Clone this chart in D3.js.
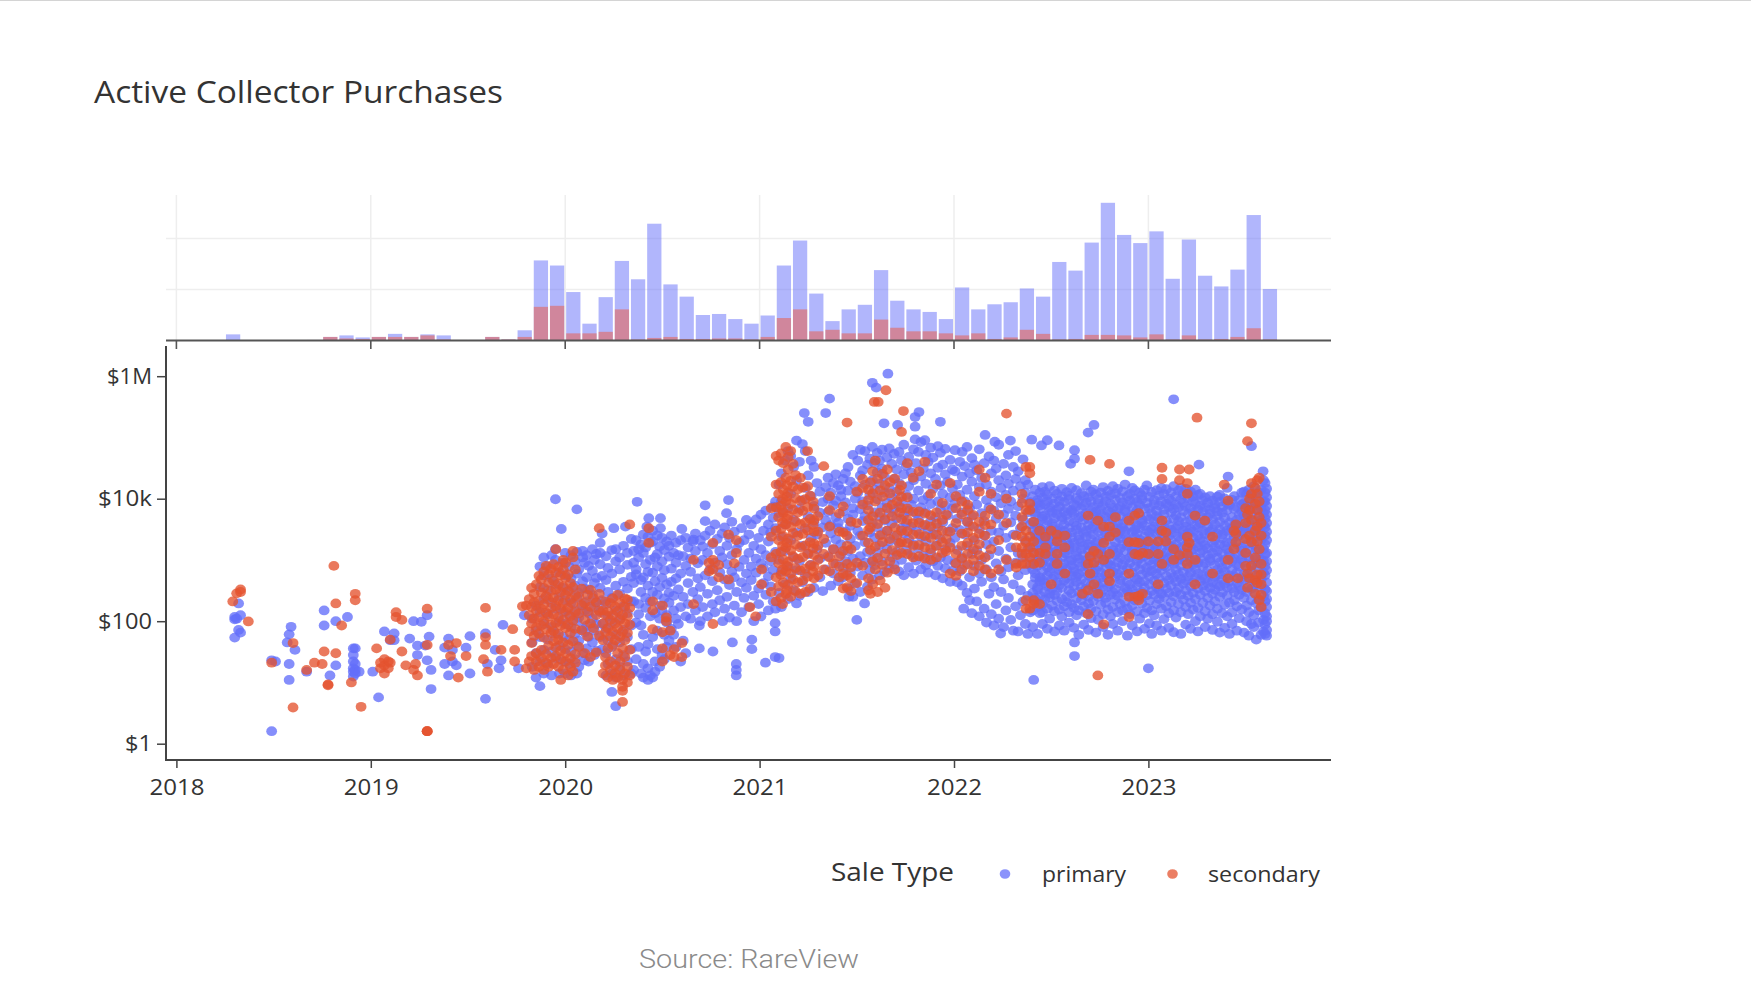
<!DOCTYPE html>
<html><head><meta charset="utf-8">
<script src="https://cdn.jsdelivr.net/npm/d3@7/dist/d3.min.js"></script>
<style>html,body{margin:0;padding:0;background:#fff}svg{display:block}text{font-family:"Open Sans",sans-serif}</style>
</head><body><svg id="c" width="1751" height="1004"></svg>
<script>
const years=[2018,2019,2020,2021,2022,2023];
const valueTicks=[1,100,10000,1000000];
const valueLabels=["$1","$100","$10k","$1M"];
const saleTypes=["primary","secondary"];
// monthly purchase counts from Jan 2018
const primaryCounts=[0,0,0,12,0,0,0,0,1,7,10,6,7,13,7,12,10,1,1,7,2,20,157,147,95,33,85,156,120,229,110,86,50,52,42,33,49,147,196,92,38,61,70,138,78,61,56,42,104,61,71,75,102,86,154,137,192,270,207,191,214,121,198,127,106,139,246,101];
const secondaryCounts=[0,0,0,0,0,0,0,0,1,7,4,3,7,7,7,10,2,1,1,7,2,7,66,68,14,14,17,61,2,5,7,3,3,4,4,2,7,44,61,18,21,14,14,41,25,18,18,14,10,14,3,6,21,13,2,3,11,11,10,6,12,2,10,2,3,7,24,2];
// [year, dollar values]
const primaryEarly=[
[2018.30,[54,107,117]],[2018.31,[110]],[2018.32,[72,195]],[2018.33,[65,125]],[2018.49,[1.6,23]],[2018.51,[22]],[2018.57,[45]],[2018.58,[11,20,61]],[2018.59,[81]],[2018.61,[34]],[2018.67,[15]],[2018.76,[85,150]],[2018.79,[13]],[2018.82,[19,100]],[2018.88,[117]],[2018.91,[12.5,15,17,22,28,36]],[2018.92,[14,16,20,36]],[2018.94,[15]],
[2019.01,[15]],[2019.04,[5.7]],[2019.07,[68]],[2019.10,[49]],[2019.12,[49,63]],[2019.20,[52]],[2019.22,[100]],[2019.24,[28,40]],[2019.26,[98]],[2019.28,[40]],[2019.29,[23,125]],[2019.30,[56]],[2019.31,[7.8,16]],[2019.38,[20,37]],[2019.40,[13,52]],[2019.42,[22,34]],[2019.44,[19]],[2019.49,[37]],[2019.51,[14,57]],[2019.59,[5.4,63]],[2019.60,[20]],[2019.64,[34]],[2019.66,[17]],[2019.67,[23]],[2019.68,[87]],[2019.76,[17]],[2019.79,[125]]];
const primaryOutliers=[
[2019.95,[9800,1500]],[2019.98,[3200]],[2020.06,[6700]],[2020.18,[1900]],[2020.19,[2700]],[2020.24,[1450]],[2020.25,[3300]],[2020.31,[3500]],[2020.34,[2200]],[2020.37,[8900]],[2020.42,[3500]],[2020.43,[4800]],[2020.49,[4800,3300]],[2020.60,[3200]],[2020.66,[2150]],[2020.69,[36,85]],[2020.72,[7800,4300]],[2020.76,[32]],[2020.81,[100]],[2020.83,[5800]],[2020.84,[9500]],[2020.86,[45]],[2020.88,[13,16,20]],[2020.96,[35,50]],
[2021.03,[21]],[2021.08,[26,68,93]],[2021.10,[25]],[2021.19,[195,89000]],[2021.23,[250000]],[2021.25,[180000]],[2021.34,[250000]],[2021.36,[430000]],[2021.46,[250]],[2021.48,[250]],[2021.50,[105]],[2021.54,[195]],[2021.58,[780000]],[2021.60,[650000]],[2021.64,[170000]],[2021.66,[1100000]],[2021.71,[160000]],[2021.80,[150000,215000,93000]],[2021.82,[260000]],[2021.85,[90000]],[2021.93,[180000]],
[2022.05,[160]],[2022.08,[220]],[2022.16,[110000]],[2022.21,[85000]],[2022.24,[63]],[2022.29,[89000]],[2022.40,[92000]],[2022.41,[11]],[2022.45,[74000]],[2022.48,[90000]],[2022.54,[74000]],[2022.60,[37000]],[2022.62,[27,45,45000,62000]],[2022.69,[120000]],[2022.72,[160000]],[2022.90,[28000]],[2023.00,[17]],[2023.13,[420000]],[2023.26,[36000]],[2023.41,[23000]],[2023.53,[72000]],[2023.59,[28000]]];
const primaryDense2020=[
[2019.83,[18,45,110]],[2019.85,[12,30,70,180]],[2019.87,[8.7,22,55,140,360,780]],[2019.89,[14,34,90,230,560,1100]],[2019.91,[20,50,130,320,790]],[2019.93,[13,32,80,200,500,1200]],[2019.95,[25,63,160,400,1000]],[2019.97,[14,40,100,250,630]],[2019.99,[22,56,140,350,900]],[2020.00,[14,35,90,220,560,1300]],[2020.02,[20,50,125,310,780]],[2020.03,[13,32,80,200,500,1200]],[2020.05,[24,62,150,380,950]],[2020.06,[14,40,100,240,600,1350]],[2020.07,[18,48,115,290,700]],[2020.09,[30,75,180,450,1100,1400]],[2020.10,[23,66,150,340,900]],[2020.11,[36,85,210,520,1200]],[2020.12,[22,55,135,330,800]],[2020.14,[45,110,270,660,1500]],[2020.15,[28,70,170,420,1000]],[2020.16,[33,90,200,510,1250]],[2020.18,[55,140,350,850,1300]],[2020.19,[35,90,220,550]],[2020.21,[13,30,75,190,470,1150]],[2020.22,[20,48,120,300,740]],[2020.24,[7,14,38,95,240,600]],[2020.26,[4.1,12,24,60,150,380,950,1500]],[2020.28,[18,45,110,280,700,1100]],[2020.30,[13,28,72,175,440,1700]],[2020.32,[22,55,135,340,830,1300]],[2020.34,[14,35,85,210,530]],
[2020.352,[16,210,420,900,1400]],[2020.365,[24,95,580,700,2100]],[2020.378,[38,130,190,1100,1500]],[2020.39,[14,85,300,470,1800]],[2020.402,[12,20,60,520,1300,2600]],[2020.414,[32,165,240,850,1600]],[2020.426,[11,17,42,380,640,2400]],[2020.438,[13,120,210,1000,1900]],[2020.45,[12,55,300,620,2000,3000]],[2020.462,[15,22,135,450,1100]],[2020.474,[35,70,270,780,1250,2500]],[2020.486,[18,110,180,360,1650]],[2020.498,[28,150,510,950,2300]],[2020.51,[24,60,235,680,1450]],[2020.522,[38,95,125,400,2000]],[2020.534,[48,200,290,1130,1700]],[2020.546,[75,440,720,2500]],[2020.558,[60,150,260,1300]],[2020.57,[38,110,500,900,1900]],[2020.582,[90,330,1200]],[2020.594,[22,170,600,2100]],
[2020.607,[48,250,1150]],[2020.62,[30,120,800,2300]],[2020.632,[190,420,1600]],[2020.645,[110,640,1050]],[2020.657,[300,2000]],[2020.67,[150,1400,2700]],[2020.682,[230,500,880]],[2020.695,[100,360,2100]],[2020.707,[170,1000,1650]],[2020.72,[560,2500]],[2020.732,[120,280,1300]],[2020.745,[700,3000]],[2020.757,[190,450,1800]],[2020.77,[140,900,3800]],[2020.782,[320,2200]],[2020.795,[220,630,1400]],[2020.807,[1100,2700]],[2020.82,[160,480,3400]],[2020.832,[250,850,1700]],[2020.845,[115,390,2300]],[2020.857,[650,1200,4200]],[2020.87,[180,520,2900]],[2020.882,[100,300,1500]],[2020.895,[770,1900]],[2020.907,[140,430,3300]],[2020.92,[240,1000,2100]],[2020.932,[350,600,4500]],[2020.945,[170,1300,2600]],[2020.957,[470,780,3800]],[2020.97,[100,260,1700]],[2020.982,[620,1050,4600]],[2020.995,[190,340,2300]],[2021.007,[120,880,1500,5500]],[2021.02,[420,730,3000]],[2021.032,[270,1200,6400]],[2021.045,[150,540,2000,3800]],[2021.057,[370,950,2800]],[2021.07,[210,680,4900,7400]],[2021.082,[160,1350,3300,9000]]];
const primaryDense2021=[
[2021.10,[290,1000,5800,17000]],[2021.112,[170,640,2400,9000,26000]],[2021.13,[400,1400,3800,42000]],[2021.146,[230,780,7000,60000]],[2021.16,[500,2100,12000,50000]],[2021.175,[320,1100,4500,33000]],[2021.19,[680,2800,20000]],[2021.205,[260,960,6800,40000]],[2021.22,[430,1700,9500,78000]],[2021.235,[590,3300,15000,60000]],[2021.25,[300,1250,5100,24000]],[2021.265,[830,2300,11000,42000]],[2021.28,[350,4100,7600,33000]],[2021.295,[1500,2600,18000]],[2021.31,[520,1050,5900,13000]],[2021.325,[310,3400,8800]],
[2021.34,[700,1900,4400,15500]],[2021.352,[1150,6100,10000,22000]],[2021.366,[380,2700,3700,12500]],[2021.38,[600,1500,7800,18000]],[2021.392,[860,2150,5000,9200,25000]],[2021.405,[450,3300,4100,16500]],[2021.418,[1250,1800,11000,14000]],[2021.43,[520,740,6200,21000]],[2021.442,[960,2900,8700,26000]],[2021.455,[340,1400,4700,13500,33000]],[2021.467,[620,2200,3600,19000]],[2021.48,[1050,5500,7000,52000]],[2021.492,[410,1700,10000,16000]],[2021.505,[780,3000,12500,42000]],[2021.518,[300,1150,2500,6700,24000,63000]],[2021.53,[560,4300,9000,29000]],[2021.542,[900,1950,5200,17000,60000]],[2021.555,[370,1350,7800,36000]],[2021.567,[680,2800,11500,45000]],[2021.58,[480,1000,4000,20000,70000]],[2021.592,[820,2300,6000,14000,38000]],[2021.605,[1300,3400,9800,27000,56000]],[2021.617,[560,1750,5100,17500,42000]],[2021.63,[950,2600,7200,31000,63000]],[2021.642,[640,4400,12500,23000]],[2021.655,[1500,3000,8500,47000]],[2021.667,[720,2000,5900,15000,66000]],[2021.68,[1100,3900,10500,37000]],[2021.692,[840,2450,6800,21000,54000]],[2021.705,[1350,4800,13000,30000]],[2021.717,[650,1900,7500,18000,58000]],[2021.73,[1000,3300,9000,42000]],[2021.742,[560,2700,5400,25000,76000]],[2021.755,[1450,4000,11500,34000]],[2021.767,[760,2200,6300,16000,48000]],[2021.78,[1200,3500,8000,27000]],[2021.792,[600,1800,10000,20000,64000]],[2021.805,[980,2950,5700,38000]],[2021.817,[1550,4600,13500,58000]],[2021.83,[700,2400,7200,23000,84000]],[2021.842,[1150,3600,9500,31000]],[2021.855,[820,2000,6000,17500,52000]],[2021.867,[620,3100,11000,40000]],[2021.88,[1300,4300,8200,26000,68000]],[2021.892,[950,2600,14500,47000]],[2021.905,[560,1700,5000,21000]],[2021.917,[800,3400,9000,32000,72000]],[2021.93,[1100,2200,6600,16500,56000]],[2021.942,[500,4100,12000,36000]],[2021.955,[730,1500,7700,25000,65000]],[2021.967,[1000,2900,5300,19000]],[2021.98,[440,1900,10500,43000]],[2021.992,[660,3300,6900,14700,30000]],
[2022.005,[900,2300,8500,28000,62000]],[2022.017,[430,1450,4700,17000]],[2022.03,[650,3100,11500,40000]],[2022.042,[380,1100,6000,23000,58000]],[2022.055,[820,2600,9000,34000]],[2022.067,[290,1700,4200,14000,70000]],[2022.08,[520,3600,7000,26000]],[2022.092,[135,1250,5200,19000,46000]],[2022.105,[340,800,2100,11000,36000]],[2022.117,[210,1450,8000,29000]],[2022.13,[120,600,3200,15500,64000]],[2022.142,[440,1000,5800,22000]],[2022.155,[160,2500,4300,38000]],[2022.167,[95,700,1800,9500,17000]],[2022.18,[280,1200,7200,49000]],[2022.192,[130,520,3000,13000,26000]],[2022.205,[85,360,2000,6400,42000]],[2022.217,[190,880,4700,10500,31000]],[2022.23,[110,1400,2800,20000,76000]],[2022.242,[300,650,8400,15000]],[2022.255,[80,480,3600,5500,37000]],[2022.267,[150,1050,2300,11500,24000]],[2022.28,[240,760,6800,17500,52000]],[2022.292,[105,1600,4100,9000]],[2022.305,[70,400,2600,13500,33000]],[2022.317,[175,900,5300,21000,60000]],[2022.33,[68,560,1300,7500,28000]],[2022.342,[125,320,3300,16000]],[2022.355,[210,1100,4500,10000,44000]],[2022.367,[90,680,2100,12500,20000]],[2022.38,[62,260,1500,6000,17000]],[2022.392,[140,830,3800,8800]]];
const primaryDense2022=[
[2022.405,[80,150,290,400,700,1000,1600,3000,4200,7000,11000]],[2022.418,[210,240,510,600,1300,2200,2600,5500,6000,14000]],[2022.43,[62,170,330,360,800,950,1900,3400,3900,8500,9500]],[2022.442,[135,260,450,520,1150,1450,2500,3300,6800,7800,12500]],[2022.455,[90,140,190,470,650,880,1700,2900,4700,5100,10500,15500]],[2022.467,[225,300,420,1050,1250,2100,2350,5300,8000,13000]],[2022.48,[75,160,370,560,760,1500,1800,3700,4400,9000,11500]],[2022.492,[110,245,280,640,920,1350,2800,3100,6300,7200,16000]],[2022.505,[180,340,490,730,1200,2000,2450,4000,5900,10000]],[2022.517,[68,145,270,540,850,1050,1650,3500,4800,8300,13500]],[2022.53,[215,310,430,990,1400,2200,3000,5600,6600,12000]],[2022.542,[85,155,390,580,680,1550,2700,3200,7400,9200]],[2022.555,[120,230,350,760,1100,1850,2350,4500,5000,10800,14500]],[2022.567,[70,175,460,610,870,1300,2950,3800,6100,8800]],[2022.58,[205,255,500,700,1250,2050,2550,5400,7000,12800]],[2022.592,[95,140,320,410,970,1450,1750,3300,4300,9800,11200]],[2022.605,[190,285,550,820,1000,2300,2800,6000,6500,15000]],[2022.617,[78,165,380,640,720,1600,1900,4100,5700,8100]],[2022.63,[125,235,440,530,1150,1350,3100,3600,7600,10200,13800]],[2022.642,[60,150,300,590,900,1050,2150,2500,4900,9400]],[2022.655,[220,360,480,780,1500,1950,3400,5200,6900,12300]],[2022.667,[88,175,270,650,1200,1700,2750,4500,7700,11000]],[2022.68,[135,340,420,860,1000,2400,3000,5800,8600,16500]],[2022.692,[72,195,250,560,740,1400,1800,3700,4700,10500]],[2022.705,[112,160,390,520,1100,1650,2200,3200,6400,9000,13000]],[2022.717,[215,300,610,840,1300,2600,3500,5300,7300,14000]],[2022.73,[65,145,345,460,690,1550,1900,4200,6100,11800]],[2022.742,[105,250,375,790,1050,2050,2900,4800,8400,9700]],[2022.755,[185,280,510,620,1250,1500,3300,5600,6700,12600]],[2022.767,[80,130,325,430,950,1750,2300,3800,7800,15500]],[2022.78,[200,240,570,720,1150,2100,2700,5000,9100,10900]],[2022.792,[60,155,365,490,880,1350,3100,4400,6300,13400]],[2022.805,[120,270,400,800,1000,2450,2800,5900,8200,11500]],[2022.817,[90,170,300,640,1450,1650,3600,4600,7100,16000]],[2022.83,[225,335,530,760,1200,1950,3200,5500,9600,12200]],[2022.842,[70,140,260,590,910,1300,2500,4100,6800,14500]],[2022.855,[190,410,470,1080,1550,2250,3000,5200,7500,10300]],[2022.867,[100,150,290,680,830,1800,3400,3900,8700,13200]],[2022.88,[205,350,560,1000,1400,2600,2950,6200,6600,17000]],[2022.892,[58,160,310,445,730,1700,2100,4700,8000,11000]],[2022.905,[130,255,395,890,1100,2000,3500,5000,9300,12000]],[2022.917,[85,180,330,620,1250,1450,2850,4300,7200,15000]],[2022.93,[220,280,520,780,1600,2350,3100,5700,10000,13600]],[2022.942,[68,145,380,480,960,1350,2700,3700,6500,8900]],[2022.955,[110,240,430,700,1050,2150,3300,5400,7900,12500]],[2022.967,[195,300,580,860,1500,1900,4000,4500,9800,11300]],[2022.98,[75,135,350,450,1150,1700,2400,3600,6900,14000]],[2022.992,[165,265,630,750,1300,2050,3000,5100,8500,16500]],
[2023.005,[92,215,400,540,980,1550,2800,4600,7000,10700]],[2023.017,[62,150,310,660,840,1250,2250,3200,5800,12900]],[2023.03,[125,270,460,1020,1400,1800,3500,4200,8100,9500]],[2023.042,[85,190,360,590,720,1650,2600,5200,6400,13800]],[2023.055,[230,330,500,900,1100,2000,3000,4800,7700,11200]],[2023.067,[70,160,280,680,1200,1500,2700,3900,9000,15000]],[2023.08,[108,245,420,800,1000,2300,3400,5500,6600,12000]],[2023.092,[175,340,550,770,1350,1900,2900,4400,8300,14300]],[2023.105,[78,135,290,470,1080,1700,2450,3700,7400,10000]],[2023.117,[205,385,610,940,1250,2100,3100,6000,9200,12700]],[2023.13,[66,150,255,520,860,1600,2800,4700,6800,16000]],[2023.142,[115,300,440,700,1450,1800,3300,5300,8000,11000]],[2023.155,[190,350,580,1000,1150,2400,3600,4300,7200,13500]],[2023.167,[62,140,270,490,800,1550,2150,5000,9700,15000]],[2023.18,[225,410,640,1100,1300,2600,3000,6300,8600,11800]],[2023.192,[88,170,320,460,930,1750,3500,4100,7500,14500]],[2023.205,[130,260,540,750,1200,2000,2750,5600,10200,12300]],[2023.217,[75,200,365,620,1000,1400,3200,4500,7000,13000]],[2023.23,[155,290,430,840,1500,2300,2900,5900,9100,10800]],[2023.242,[100,230,510,710,1100,1850,3700,4800,8200,14000]],[2023.255,[68,165,340,600,900,1650,2500,3400,6700,11500]],[2023.267,[120,270,450,1050,1300,2200,4000,5200,7700,12000]],[2023.28,[200,380,560,780,1450,2000,3000,6100,9400]],[2023.292,[80,145,310,490,880,1750,2650,4300,7200,10500]],[2023.305,[110,240,420,670,1200,1550,3500,5000,8500]],[2023.317,[180,350,590,960,1050,2450,2900,5700,6600,11000]],[2023.33,[72,130,280,440,1300,1900,3200,4600,9300]],[2023.342,[210,325,530,810,1600,2100,3800,7000,8000]],[2023.355,[98,160,400,690,1100,1400,2700,5300,6200,10800]],[2023.367,[65,250,370,575,910,1800,3100,4200,8900,11500]],[2023.38,[135,295,480,740,1250,2250,2600,5900,7400]],[2023.392,[78,185,410,640,1000,1700,3600,4900,10100]],[2023.405,[120,260,355,850,1500,1950,3000,6500,8300,15000]],[2023.417,[62,200,450,560,1150,1300,2800,4100,7900]],[2023.43,[90,140,345,700,960,2050,3300,5000,9600]],[2023.442,[220,300,540,1050,1600,2400,3700,6800,11000]],[2023.455,[70,175,420,620,840,1800,3000,4500,7300]],[2023.467,[112,270,380,780,1200,2500,3900,5500,9500]],[2023.48,[155,325,500,1030,1400,1600,2900,6100,8000,12500]],[2023.492,[65,240,465,585,915,2230,3470,5420,8450,13000]],[2023.505,[100,180,300,730,1290,1800,3200,4900,7640,11900]],[2023.517,[58,140,380,530,1100,1500,2600,4200,9000,14000]],[2023.53,[90,220,340,650,830,2010,3140,5500,6800,11000]],[2023.542,[80,125,300,470,1000,1780,2780,4340,7900,16000]],[2023.555,[50,195,400,730,1140,1500,2400,3700,6770,10600]],[2023.567,[95,150,230,560,875,1365,3320,5180,8080,12600]],[2023.58,[60,165,360,480,1000,2130,2700,4500,7000,14000]],[2023.592,[68,105,255,620,970,1510,3680,5740,8950,20000]],[2023.60,[62,88,135,210,330,560,800,1250,1800,2500,3400,4750,6500,9000,12500,18000]],[2023.608,[58,72,100,120,170,230,310,430,680,950,1300,2100,2900,4000,5500,7600,10500,14500]]];
const secondaryEarly=[
[2018.29,[210]],[2018.31,[285]],[2018.33,[330,300]],[2018.37,[99]],[2018.49,[21]],[2018.60,[3.9,44]],[2018.67,[16]],[2018.71,[21]],[2018.75,[20]],[2018.76,[32]],[2018.78,[9.3,9]],[2018.81,[800]],[2018.82,[30,195]],[2018.85,[85]],[2018.90,[10]],[2018.92,[220,280]],[2018.95,[4]],
[2019.03,[36]],[2019.05,[21,17]],[2019.07,[14,19,24]],[2019.09,[17,22]],[2019.10,[50,21]],[2019.13,[117,140]],[2019.16,[105,32]],[2019.18,[19]],[2019.23,[20]],[2019.22,[16]],[2019.24,[13]],[2019.29,[1.6,1.6,1.6,41,160]],[2019.40,[41]],[2019.41,[27]],[2019.44,[44]],[2019.45,[12]],[2019.49,[27]],[2019.58,[24]],[2019.59,[41,55,165]],[2019.60,[15]],[2019.67,[34]],[2019.73,[74]],[2019.74,[22,34]],[2019.78,[175]],[2019.80,[17,180]]];
const secondaryClusters=[
[2019.815,[22,68,125,230]],[2019.827,[27,44,92,170,350]],[2019.84,[16,58,110,205,280]],[2019.852,[22,30,80,150,400]],[2019.865,[18,63,116,215,550]],[2019.877,[25,34,85,160,295,480]],[2019.89,[16,54,100,188,350,650]],[2019.902,[21,29,74,137,257,800]],[2019.915,[18,40,120,225,425,580]],[2019.927,[25,64,88,165,310,720]],[2019.94,[20,47,69,129,242,455,850]],[2019.952,[27,37,94,177,330,620,1500]],[2019.965,[18,50,62,116,218,410,770]],[2019.977,[11,24,33,85,160,300,560]],[2019.99,[16,45,105,198,370,700,1000]],[2020.002,[22,30,77,145,270,510,900]],[2020.015,[13,41,88,165,310,580]],[2020.027,[18,25,64,120,225,420]],[2020.04,[15,47,103,193,360,1100,1400]],[2020.052,[21,29,75,141,265,700]],[2020.07,[38,133,250]],[2020.085,[71,182,340]],[2020.10,[30,105,198]],[2020.115,[56,144,270]],[2020.13,[26,92,172,325]],[2020.145,[77,236]],[2020.16,[31,126,203]],[2020.175,[58,148,278,3300]],
[2020.195,[14,49,92,150]],[2020.207,[19,26,67,126,210]],[2020.22,[12,36,77,144]],[2020.232,[16,22,56,105,198]],[2020.245,[11,41,67,126,236]],[2020.257,[14,19,49,92,172]],[2020.27,[12,30,77,144,270]],[2020.282,[16,22,56,105,198]],[2020.295,[4.8,7.3,8.5,11,36,67,126]],[2020.307,[14,26,49,92,172,236]],[2020.32,[10,18,64,120,225]],[2020.332,[13,34,88,165,3800]],
[2021.085,[210,520,1250,3000,7200,17000,50000]],[2021.098,[370,880,2100,5000,12000,42000]],[2021.11,[240,570,1350,3200,7700,18500,55000]],[2021.122,[430,1020,2450,5900,14000,38000]],[2021.135,[280,660,1600,3800,9100,22000,70000]],[2021.147,[390,930,2230,5300,12700,30000,48000]],[2021.16,[250,600,1440,3450,8200,19600,60000]],[2021.172,[480,1150,2750,6600,15700,37000]],[2021.185,[310,740,1780,4250,10200,24300]],[2021.197,[430,1040,2480,5930,14200]],[2021.21,[280,670,1600,3830,9170,21900]],[2021.222,[460,1110,2660,6360,15200]],[2021.14,[320,800,1900,4700,10800,16500]],[2021.118,[190,700,1700,4100,6500,9900]],[2021.235,[300,720,1720,4110,9840]],[2021.247,[530,1270,3030,7260,16000,60000]],[2021.26,[340,820,1960,4690,11200]],[2021.275,[650,1550,3700,8900]],
[2021.57,[280,1450,3400,18500]],[2021.582,[400,950,5200,12200,28000]],[2021.595,[700,1650,9000,42000]],[2021.607,[300,1080,3850,21000]],[2021.62,[460,2520,5900,13700]],[2021.632,[830,1950,10800,25300]],[2021.645,[350,1270,4600,16500]],[2021.657,[620,3000,7050,30000]],[2021.67,[950,2200,12200,18700]],[2021.682,[1450,5200,8000]],[2021.695,[700,3400,21300]],[2021.707,[1200,2530,9100]],[2021.72,[1850,5950,13900]]];
const secondaryScatter=[
[2020.43,[1900,3300]],[2020.45,[74,150,210]],[2020.50,[22,36,66,180]],[2020.52,[100,115]],[2020.54,[28,70]],[2020.56,[26,35]],[2020.60,[26,44]],[2020.66,[190,1000]],[2020.74,[650,900]],[2020.76,[90,700,1000,1900]],[2020.79,[520,830]],[2020.84,[2600,480]],[2020.87,[880]],[2020.88,[1300,2100]],
[2020.95,[170]],[2020.98,[120]],[2021.01,[700,400]],[2021.06,[300,1100,2400,7000]],[2021.28,[500,780,1200,1850,2880,4450,6900]],[2021.30,[560,1000,1700,2900,5200]],[2021.33,[34000,700,1250,2200]],[2021.36,[650,1100,3500,6500,11000]],[2021.38,[880,1500]],[2021.41,[520,780,1150,2900,5700]],[2021.43,[340,600,1400,2800,7500]],[2021.45,[175000,360,560,860,1700,2500]],[2021.47,[310,500,760,1500,4200]],[2021.50,[420,900,4000,13000]],[2021.53,[800,2500,8000,15000,21000]],[2021.56,[320,500,1900,3100,4500,6500,9500,14000]],[2021.59,[380000]],[2021.61,[380000]],[2021.65,[590000]],[2021.73,[123000,1300,1950,3000,4600,7000,10700,16500]],[2021.74,[270000]],[2021.76,[1250,1900,2950,4500,6900,10500,38000]],[2021.79,[1100,1700,2600,4000,6100,22000]],[2021.82,[1150,1750,2650,4050,6200,28000]],[2021.85,[1050,1600,2450,3750,5700,40000]],[2021.88,[1000,1500,2300,3500,5350,12000]],[2021.91,[1100,1700,2600,3900,6000,17000]],[2021.94,[1300,1950,3000,4500,8500]],[2021.96,[5500,2200,1400]],[2021.98,[600,1600,2900,18000]],
[2022.01,[550,880,1250,4000,7000,11000]],[2022.04,[700,1050,1700,2700,5500,9000]],[2022.07,[850,1250,1900,2800,4200,6500,8000]],[2022.10,[650,1000,1500,2300,3500,5400]],[2022.13,[800,1200,1800,2700,4200,13000,30000]],[2022.16,[700,1100,2500,3700,5300,22000]],[2022.19,[600,1500,3800,6700,12000]],[2022.23,[700,2100,5500]],[2022.27,[245000,1000,4000,10000]],[2022.32,[750,860,1600,2500]],[2022.35,[860,1250,1600,2400,3500,5000,8500,12000]],[2022.37,[160,220,860,1250,1950,3000,6500,33000]],[2022.39,[33000,26000,160,1600,1100,2400,8300,6500]],[2022.41,[190,220,860,1300,2000,4200]],[2022.44,[190,900,1300,3000]],[2022.47,[1250,1600,2400]],[2022.50,[400,3000]],[2022.53,[860,1250,2000,2600]],[2022.57,[600,1600,2500]],[2022.66,[280]],[2022.69,[130,320,5300,860]],[2022.70,[43000,600,1150]],[2022.72,[900,400,1400]],[2022.74,[4400,280,13,1250]],[2022.77,[89,1000,1900,3500]],[2022.80,[37000,3500,2400,450,600,1250]],
[2022.83,[2800,5000]],[2022.90,[4400,1950,600,250,117]],[2022.93,[5300,1250,1950,250]],[2022.95,[5800,1200,1900,220,260]],[2022.97,[1300,280]],[2023.00,[1250,2000]],[2023.05,[2000,400,1250]],[2023.07,[4400,3000,860,32000,21000]],[2023.09,[2800,2000]],[2023.13,[1000,1500]],[2023.16,[30000,20000,1200]],[2023.20,[12000,2400,1600,860,18000,1250]],[2023.21,[30000,1900]],[2023.24,[5300,400,1000]],[2023.25,[210000]],[2023.29,[4400]],[2023.33,[2400,600]],[2023.39,[17000]],[2023.41,[9300,500,1000]],[2023.45,[3800,2700,1950]],[2023.44,[3000,1500]],[2023.46,[500]],[2023.50,[800,1300,2200,4000,7000]],[2023.51,[87000,5500,600,350]],[2023.52,[6500,10000,2500,500]],[2023.53,[170000,18000,12000,4500,1950,800]],[2023.55,[8300,15000,3000,1100,470,280]],[2023.56,[12000,20000,6500,3500,2000,580,420]],[2023.57,[22000,9000,5000,1500,220]],[2023.58,[4000,2500,860,580,400,270,170]]];
const flatten=cols=>cols.flatMap(([yr,vals])=>vals.map(v=>({yr,v})));
const primary=[primaryEarly,primaryOutliers,primaryDense2020,primaryDense2021,primaryDense2022].flatMap(flatten);
const secondary=[secondaryEarly,secondaryClusters,secondaryScatter].flatMap(flatten);

const svg=d3.select("#c");
const BLUE="#636efa",RED="#e4532f",DARK="#444",TXT="#333";
const x=d3.scaleLinear().domain([2018,2023]).range([176.4,1148.4]);
const y=d3.scaleLog().domain([1,1000000]).range([743.7,376.2]);
const yBar=d3.scaleLinear().domain([0,300]).range([340.5,187.5]);
const stretchText=(sel,len)=>sel.attr("textLength",len).attr("lengthAdjust","spacingAndGlyphs");

svg.append("rect").attr("width",1751).attr("height",1).attr("fill","#d4d4d4");
stretchText(svg.append("text").attr("x",94).attr("y",103).attr("font-size",31).attr("fill",TXT).text("Active Collector Purchases"),409);

// marginal histogram
svg.append("g").selectAll("line").data([100,200]).join("line").attr("x1",166).attr("x2",1331).attr("y1",d=>yBar(d)).attr("y2",d=>yBar(d)).attr("stroke","#eeeeee").attr("stroke-width",1.5);
svg.append("g").selectAll("line").data(years).join("line").attr("x1",d=>x(d)).attr("x2",d=>x(d)).attr("y1",195).attr("y2",340).attr("stroke","#eeeeee").attr("stroke-width",1.5);
const monthW=(x(2019)-x(2018))/12;
const barG=svg.append("g");
[[primaryCounts,BLUE],[secondaryCounts,"#ef553b"]].forEach(([arr,c])=>{
  barG.append("g").selectAll("rect").data(arr).join("rect")
   .attr("x",(d,i)=>x(2018+i/12)+monthW*0.06)
   .attr("width",monthW*0.88)
   .attr("y",d=>yBar(d)).attr("height",d=>yBar(0)-yBar(d))
   .attr("fill",c).attr("opacity",0.5);
});
svg.append("line").attr("x1",166).attr("x2",1331).attr("y1",340.5).attr("y2",340.5).attr("stroke","#555").attr("stroke-width",2);
svg.append("g").selectAll("line").data(years).join("line").attr("x1",d=>x(d)).attr("x2",d=>x(d)).attr("y1",341).attr("y2",349).attr("stroke","#555").attr("stroke-width",1.6);

// scatter
const ptG=svg.append("g");
[[primary,BLUE],[secondary,RED]].forEach(([arr,c])=>{
  ptG.append("g").selectAll("ellipse").data(arr).join("ellipse")
   .attr("cx",d=>x(d.yr)).attr("cy",d=>y(d.v)).attr("rx",5.4).attr("ry",4.9)
   .attr("fill",c).attr("opacity",0.78);
});

// axes
const xAxis=svg.append("g").attr("transform","translate(0,760)")
  .call(d3.axisBottom(x).tickValues(years).tickFormat(d3.format("d")).tickSize(8).tickPadding(11));
const yAxis=svg.append("g").attr("transform","translate(166,0)")
  .call(d3.axisLeft(y).tickValues(valueTicks).tickFormat((d,i)=>valueLabels[i]).tickSize(9).tickPadding(5));
[xAxis,yAxis].forEach(a=>{a.select(".domain").remove();a.selectAll("line").attr("stroke",DARK).attr("stroke-width",1.5);a.selectAll("text").attr("font-size",22).attr("font-family","Open Sans").attr("fill",TXT);});
xAxis.selectAll("text").each(function(){stretchText(d3.select(this),55);}).attr("dy","0.71em");
const yw={"$1":27,"$100":54,"$10k":54,"$1M":45};
yAxis.selectAll("text").each(function(){stretchText(d3.select(this),yw[this.textContent]);});
svg.append("line").attr("x1",166).attr("x2",166).attr("y1",346).attr("y2",760.8).attr("stroke",DARK).attr("stroke-width",2);
svg.append("line").attr("x1",165).attr("x2",1331).attr("y1",760).attr("y2",760).attr("stroke",DARK).attr("stroke-width",2);

// legend
stretchText(svg.append("text").attr("x",831).attr("y",881).attr("font-size",26).attr("fill",TXT).text("Sale Type"),123);
const legX=[1005,1172.5],legLab=[1042,1208],legW=[84,112];
saleTypes.forEach((s,i)=>{
  svg.append("ellipse").attr("cx",legX[i]).attr("cy",874).attr("rx",5.3).attr("ry",4.8).attr("fill",i?RED:BLUE).attr("opacity",0.75);
  stretchText(svg.append("text").attr("x",legLab[i]).attr("y",882).attr("font-size",22).attr("fill",TXT).text(s),legW[i]);
});
stretchText(svg.append("text").attr("x",639).attr("y",968).attr("font-size",26).attr("fill","#8a8a8a").style("font-family","Roboto").style("font-weight",300).text("Source: RareView"),220);
</script></body></html>
